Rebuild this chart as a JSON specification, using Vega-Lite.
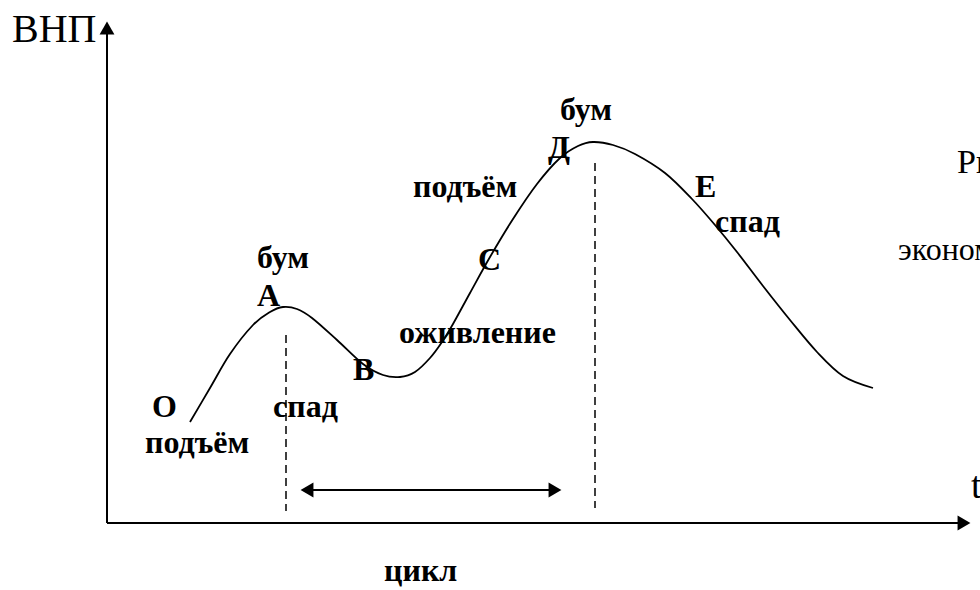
{
  "$schema": "https://vega.github.io/schema/vega-lite/v6.json",
  "width": 980,
  "height": 590,
  "padding": 0,
  "autosize": {"type": "none"},
  "background": "white",
  "config": {"view": {"stroke": null}},
  "datasets": {
    "curve": [
      {"t": 190, "gnp": 168}, {"t": 210, "gnp": 202}, {"t": 230, "gnp": 236}, {"t": 253, "gnp": 265},
      {"t": 270, "gnp": 278}, {"t": 283, "gnp": 283}, {"t": 297, "gnp": 281}, {"t": 312, "gnp": 272},
      {"t": 337, "gnp": 250}, {"t": 363, "gnp": 226}, {"t": 383, "gnp": 215}, {"t": 400, "gnp": 213},
      {"t": 415, "gnp": 218}, {"t": 430, "gnp": 232}, {"t": 442, "gnp": 248}, {"t": 453, "gnp": 266},
      {"t": 470, "gnp": 297}, {"t": 490, "gnp": 333}, {"t": 513, "gnp": 371}, {"t": 537, "gnp": 406},
      {"t": 560, "gnp": 432}, {"t": 578, "gnp": 444}, {"t": 593, "gnp": 448}, {"t": 613, "gnp": 445},
      {"t": 635, "gnp": 436}, {"t": 665, "gnp": 417}, {"t": 692, "gnp": 391}, {"t": 715, "gnp": 365},
      {"t": 737, "gnp": 338}, {"t": 763, "gnp": 304}, {"t": 790, "gnp": 270}, {"t": 817, "gnp": 238},
      {"t": 843, "gnp": 214}, {"t": 873, "gnp": 202}
    ],
    "axes": [
      {"t": 107, "gnp": 67, "t2": 107, "gnp2": 566},
      {"t": 107, "gnp": 67, "t2": 962, "gnp2": 67},
      {"t": 310, "gnp": 100, "t2": 552, "gnp2": 100}
    ],
    "dashed": [
      {"t": 286, "gnp": 255, "t2": 286, "gnp2": 79},
      {"t": 595, "gnp": 427, "t2": 595, "gnp2": 82}
    ],
    "heads": [
      {"t": 107, "gnp": 562, "shape": "triangle-up"},
      {"t": 964, "gnp": 67, "shape": "triangle-right"},
      {"t": 307, "gnp": 100, "shape": "triangle-left"},
      {"t": 555, "gnp": 100, "shape": "triangle-right"}
    ],
    "boldLabels": [
      {"t": 257, "gnp": 322, "label": "бум"},
      {"t": 257, "gnp": 284, "label": "А"},
      {"t": 152, "gnp": 173, "label": "О"},
      {"t": 145, "gnp": 137, "label": "подъём"},
      {"t": 273, "gnp": 173, "label": "спад"},
      {"t": 353, "gnp": 210, "label": "В"},
      {"t": 399, "gnp": 247, "label": "оживление"},
      {"t": 478, "gnp": 320, "label": "С"},
      {"t": 413, "gnp": 393, "label": "подъём"},
      {"t": 548, "gnp": 432, "label": "Д"},
      {"t": 560, "gnp": 470, "label": "бум"},
      {"t": 695, "gnp": 393, "label": "Е"},
      {"t": 715, "gnp": 358, "label": "спад"},
      {"t": 384, "gnp": 9, "label": "цикл"}
    ],
    "plainLabels": [
      {"t": 12, "gnp": 548, "label": "ВНП", "fs": 40},
      {"t": 971, "gnp": 92, "label": "t", "fs": 38},
      {"t": 957, "gnp": 417, "label": "Рис.", "fs": 34},
      {"t": 898, "gnp": 330, "label": "экономического", "fs": 32}
    ]
  },
  "layer": [
    {
      "data": {"name": "axes"},
      "mark": {"type": "rule", "color": "black", "strokeWidth": 2},
      "encoding": {
        "x": {"field": "t", "type": "quantitative", "scale": {"domain": [0, 980], "nice": false, "zero": false}, "axis": null},
        "y": {"field": "gnp", "type": "quantitative", "scale": {"domain": [0, 590], "nice": false, "zero": false}, "axis": null},
        "x2": {"field": "t2"},
        "y2": {"field": "gnp2"}
      }
    },
    {
      "data": {"name": "dashed"},
      "mark": {"type": "rule", "color": "black", "strokeWidth": 1.5, "strokeDash": [8, 5]},
      "encoding": {
        "x": {"field": "t", "type": "quantitative", "axis": null},
        "y": {"field": "gnp", "type": "quantitative", "axis": null},
        "x2": {"field": "t2"},
        "y2": {"field": "gnp2"}
      }
    },
    {
      "data": {"name": "curve"},
      "mark": {"type": "line", "color": "black", "strokeWidth": 1.8, "interpolate": "cardinal"},
      "encoding": {
        "x": {"field": "t", "type": "quantitative", "axis": null},
        "y": {"field": "gnp", "type": "quantitative", "axis": null}
      }
    },
    {
      "data": {"name": "heads"},
      "mark": {"type": "point", "filled": true, "color": "black", "size": 220, "opacity": 1},
      "encoding": {
        "x": {"field": "t", "type": "quantitative", "axis": null},
        "y": {"field": "gnp", "type": "quantitative", "axis": null},
        "shape": {"field": "shape", "type": "nominal", "scale": null, "legend": null}
      }
    },
    {
      "data": {"name": "boldLabels"},
      "mark": {"type": "text", "font": "Liberation Serif, Times New Roman, DejaVu Serif, serif", "fontWeight": "bold", "fontSize": 32, "align": "left", "baseline": "alphabetic", "color": "black"},
      "encoding": {
        "x": {"field": "t", "type": "quantitative", "axis": null},
        "y": {"field": "gnp", "type": "quantitative", "axis": null},
        "text": {"field": "label"}
      }
    },
    {
      "data": {"name": "plainLabels"},
      "mark": {"type": "text", "font": "Liberation Serif, Times New Roman, DejaVu Serif, serif", "align": "left", "baseline": "alphabetic", "color": "black"},
      "encoding": {
        "x": {"field": "t", "type": "quantitative", "axis": null},
        "y": {"field": "gnp", "type": "quantitative", "axis": null},
        "text": {"field": "label"},
        "size": {"field": "fs", "type": "quantitative", "scale": null, "legend": null}
      }
    }
  ]
}
